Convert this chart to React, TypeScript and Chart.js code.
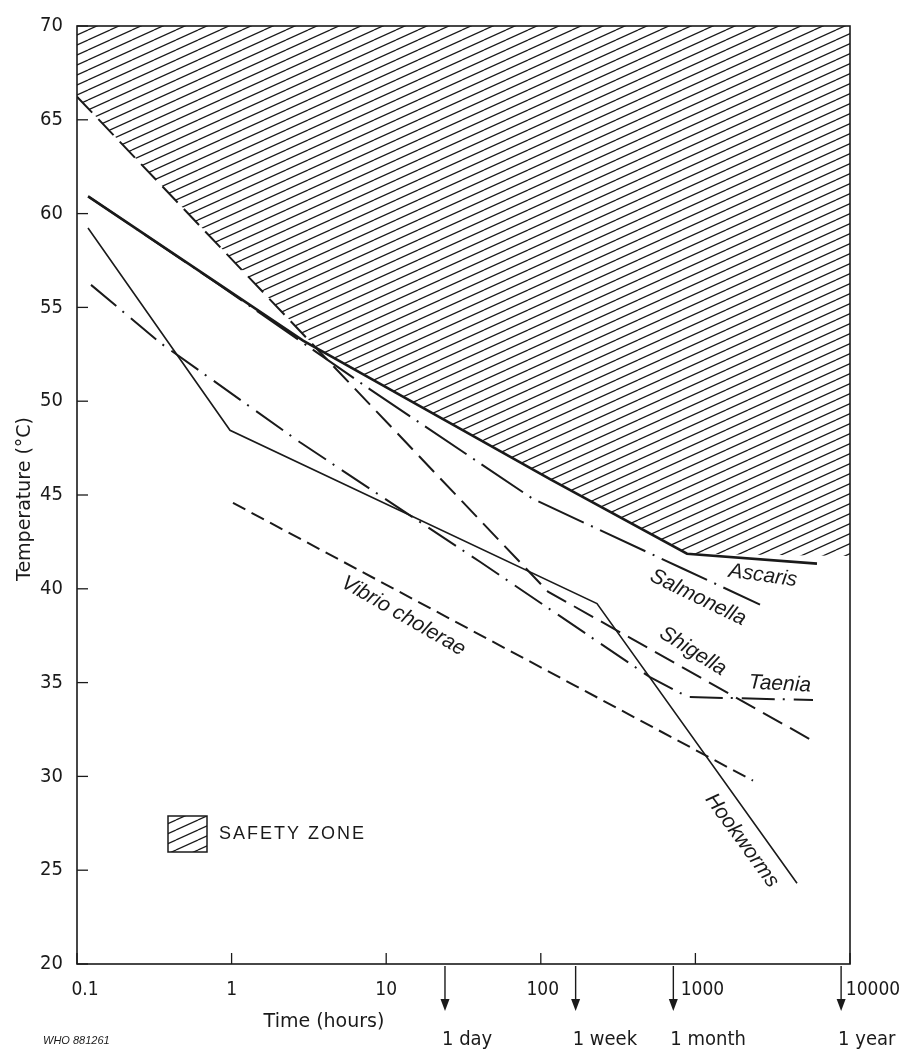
import React, { useEffect, useRef } from "react";
import { Chart, registerables } from "chart.js";

Chart.register(...registerables);

// ---------- data ----------
const xTicks = [0.1, 1, 10, 100, 1000, 10000];
const xTickLabels = ["0.1", "1", "10", "100", "1000", "10000"];
const yTicks = [20, 25, 30, 35, 40, 45, 50, 55, 60, 65, 70];

const ascarisHours = [0.118, 2.9, 114.7, 882.6, 6116];
const ascarisTemp = [60.92, 53.23, 45.85, 41.87, 41.34];

const salmonellaHours = [0.118, 0.781, 7.86, 89.0, 831.6, 2618];
const salmonellaTemp = [60.92, 56.36, 50.63, 44.79, 41.07, 39.16];

const shigellaHours = [0.1, 111.3, 5765];
const shigellaTemp = [66.23, 39.85, 31.89];

const taeniaHours = [0.1232, 0.3442, 2.77, 40.4, 508.5, 895.5, 5765];
const taeniaTemp = [56.2, 53.12, 47.81, 41.44, 35.29, 34.23, 34.07];

const hookwormHours = [0.1178, 0.9766, 230.9, 4542];
const hookwormTemp = [59.23, 48.45, 39.21, 24.3];

const vibrioHours = [1.021, 2358];
const vibrioTemp = [44.58, 29.77];

const safetyHours = [0.1, 3.58, 114.7, 882.6, 10000];
const safetyTemp = [66.23, 52.8, 45.85, 41.87, 41.75];

const timeMarkHours = [24, 168, 720, 8760];
const timeMarkLabels = ["1 day", "1 week", "1 month", "1 year"];

const speciesNames = ["Ascaris", "Salmonella", "Shigella", "Taenia", "Vibrio cholerae", "Hookworms"];
const speciesLabelHours = [2735, 1040, 964, 3524, 12.9, 2000];
const speciesLabelTemp = [40.7, 39.53, 36.67, 34.92, 38.55, 26.58];
const speciesLabelAngle = [8, 26, 32, 3, 30, 54];

// small horizontal nudges of the x tick labels, as printed in the original
const xTickLabelShift = [8, 0, 0, 2, 7, 23];

// ---------- styles ----------
const INK = "#1a1a1a";
const NARROW = '"DejaVu Sans Condensed", "Liberation Sans Narrow", "Liberation Sans", sans-serif';
const WIDE = '"DejaVu Sans", "Liberation Sans", sans-serif';
const ITALIC = '"Liberation Sans", "DejaVu Sans", sans-serif';

const pts = (xs: number[], ys: number[]) => xs.map((x, i) => ({ x, y: ys[i] }));

function makeHatch(ctx: CanvasRenderingContext2D): CanvasPattern | string {
  const c = document.createElement("canvas");
  c.width = 22;
  c.height = 10;
  const g = c.getContext("2d");
  if (!g) return "#ccc";
  g.strokeStyle = INK;
  g.lineWidth = 1.25;
  for (const dy of [-10, 0, 10]) {
    g.beginPath();
    g.moveTo(0, 10 + dy);
    g.lineTo(22, dy);
    g.stroke();
  }
  return ctx.createPattern(c, "repeat") || "#ccc";
}

const decorPlugin = {
  id: "decor",
  afterDraw(chart: any) {
    const { ctx, chartArea: a, scales } = chart;
    const xs = scales.x;
    const ys = scales.y;
    ctx.save();
    ctx.strokeStyle = INK;
    ctx.fillStyle = INK;

    // frame
    ctx.lineWidth = 1.6;
    ctx.strokeRect(a.left, a.top, a.right - a.left, a.bottom - a.top);

    // inward ticks
    ctx.lineWidth = 1.3;
    for (const v of yTicks) {
      const py = ys.getPixelForValue(v);
      ctx.beginPath();
      ctx.moveTo(a.left, py);
      ctx.lineTo(a.left + 11, py);
      ctx.stroke();
    }
    for (const v of xTicks) {
      const px = xs.getPixelForValue(v);
      ctx.beginPath();
      ctx.moveTo(px, a.bottom);
      ctx.lineTo(px, a.bottom - 11);
      ctx.stroke();
    }

    // x tick labels
    ctx.font = `19px ${NARROW}`;
    ctx.textAlign = "center";
    ctx.textBaseline = "middle";
    xTicks.forEach((v, i) => {
      const px = xs.getPixelForValue(v) + xTickLabelShift[i];
      ctx.fillText(xTickLabels[i], px, a.bottom + 26);
    });

    // species labels
    ctx.font = `italic 21px ${ITALIC}`;
    ctx.textAlign = "center";
    ctx.textBaseline = "middle";
    speciesNames.forEach((name, i) => {
      const px = xs.getPixelForValue(speciesLabelHours[i]);
      const py = ys.getPixelForValue(speciesLabelTemp[i]);
      ctx.save();
      ctx.translate(px, py);
      ctx.rotate((speciesLabelAngle[i] * Math.PI) / 180);
      ctx.fillText(name, 0, 0);
      ctx.restore();
    });

    // time arrows
    ctx.lineWidth = 1.4;
    ctx.font = `20px ${NARROW}`;
    ctx.textAlign = "left";
    ctx.textBaseline = "middle";
    timeMarkHours.forEach((h, i) => {
      const px = xs.getPixelForValue(h);
      const top = a.bottom + 2;
      const tip = a.bottom + 47;
      ctx.beginPath();
      ctx.moveTo(px, top);
      ctx.lineTo(px, tip - 8);
      ctx.stroke();
      ctx.beginPath();
      ctx.moveTo(px - 4.5, tip - 12);
      ctx.lineTo(px + 4.5, tip - 12);
      ctx.lineTo(px, tip);
      ctx.closePath();
      ctx.fill();
      ctx.fillText(timeMarkLabels[i], px - 3, a.bottom + 76);
    });

    // axis titles
    ctx.font = `19px ${WIDE}`;
    ctx.textAlign = "center";
    ctx.fillText("Time (hours)", 324, a.bottom + 58);
    ctx.save();
    ctx.translate(25, (a.top + a.bottom) / 2 + 4);
    ctx.rotate(-Math.PI / 2);
    ctx.fillText("Temperature (\u00B0C)", 0, 0);
    ctx.restore();

    // figure code
    ctx.font = `italic 11px ${ITALIC}`;
    ctx.textAlign = "left";
    ctx.fillText("WHO 881261", 43, a.bottom + 77);

    // legend
    const lx = a.left + 91;
    const ly = a.top + 790;
    ctx.fillStyle = makeHatch(ctx);
    ctx.fillRect(lx, ly, 39, 36);
    ctx.lineWidth = 1.5;
    ctx.strokeRect(lx, ly, 39, 36);
    ctx.fillStyle = INK;
    ctx.font = `18px ${ITALIC}`;
    (ctx as any).letterSpacing = "2px";
    ctx.textBaseline = "middle";
    ctx.fillText("SAFETY ZONE", lx + 51, ly + 18);
    ctx.restore();
  },
};

export default function App() {
  const ref = useRef<HTMLCanvasElement | null>(null);

  useEffect(() => {
    const canvas = ref.current;
    if (!canvas) return;
    const ctx = canvas.getContext("2d") as CanvasRenderingContext2D;
    const hatch = makeHatch(ctx);
    const line = (label: string, xs: number[], ys: number[], width: number, dash: number[]) => ({
      label,
      data: pts(xs, ys),
      borderColor: INK,
      borderWidth: width,
      borderDash: dash,
      pointRadius: 0,
      fill: false,
      tension: 0,
      order: 1,
    });

    const chart = new Chart(canvas, {
      type: "line",
      data: {
        datasets: [
          {
            label: "Safety zone",
            data: pts(safetyHours, safetyTemp),
            borderWidth: 0,
            borderColor: "rgba(0,0,0,0)",
            backgroundColor: hatch as any,
            pointRadius: 0,
            fill: "end",
            tension: 0,
            order: 10,
          },
          line("Ascaris", ascarisHours, ascarisTemp, 2.6, []),
          line("Salmonella", salmonellaHours, salmonellaTemp, 2, [50, 8, 2, 8]),
          line("Shigella", shigellaHours, shigellaTemp, 2, [22, 9]),
          line("Taenia", taeniaHours, taeniaTemp, 2, [33, 8, 2, 9]),
          line("Hookworms", hookwormHours, hookwormTemp, 1.6, []),
          line("Vibrio cholerae", vibrioHours, vibrioTemp, 2, [14, 7]),
        ] as any,
      },
      options: {
        responsive: false,
        animation: false,
        parsing: false as any,
        layout: { padding: { left: 0, right: 57, top: 22, bottom: 0 } },
        plugins: { legend: { display: false }, tooltip: { enabled: false } },
        scales: {
          x: {
            type: "logarithmic",
            min: 0.1,
            max: 10000,
            afterBuildTicks: (s: any) => {
              s.ticks = xTicks.map((v) => ({ value: v }));
            },
            afterFit: (s: any) => {
              s.height = 86;
            },
            grid: { display: false, drawTicks: false },
            border: { display: false },
            ticks: { display: false },
          },
          y: {
            type: "linear",
            min: 20,
            max: 70,
            afterBuildTicks: (s: any) => {
              s.ticks = yTicks.map((v) => ({ value: v }));
            },
            afterFit: (s: any) => {
              s.width = 77;
            },
            grid: { display: false, drawTicks: false },
            border: { display: false },
            ticks: {
              padding: 14,
              color: INK,
              font: { family: NARROW, size: 20 },
              callback: (v: any) => String(v),
            },
          },
        },
      },
      plugins: [decorPlugin],
    } as any);

    return () => chart.destroy();
  }, []);

  return (
    <div style={{ position: "absolute", left: 0, top: 0, width: 907, height: 1050, background: "#fff" }}>
      <canvas ref={ref} width={907} height={1050} style={{ display: "block", width: 907, height: 1050 }} />
    </div>
  );
}
